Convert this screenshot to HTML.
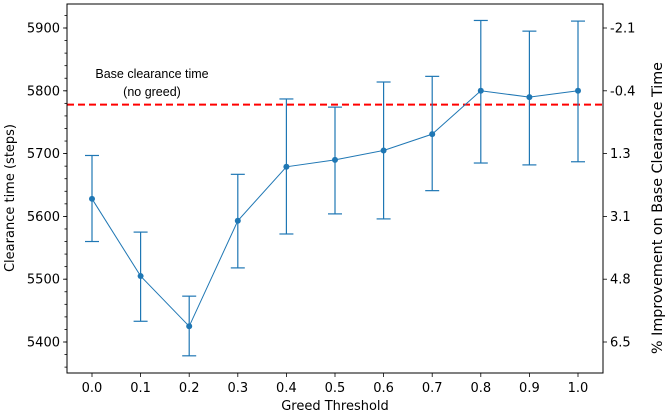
<!DOCTYPE html>
<html><head><meta charset="utf-8"><style>
body{margin:0;background:#fff}
svg text{font-family:"DejaVu Sans","Liberation Sans",sans-serif;font-size:13px;fill:#000}
</style></head><body>
<svg id="c" width="666" height="415" xmlns="http://www.w3.org/2000/svg"></svg>
<script>
const thresholds=[0.0,0.1,0.2,0.3,0.4,0.5,0.6,0.7,0.8,0.9,1.0];
const means=[5628,5505,5425,5593,5679,5690,5705,5731,5800,5790,5800];
const errHigh=[5697,5575,5473,5667,5787,5774,5814,5823,5912,5895,5911];
const errLow=[5560,5433,5378,5518,5572,5604,5596,5641,5685,5682,5687];
const baseTime=5778;
const yTicks=[5400,5500,5600,5700,5800,5900];
const rightTickLabels=["6.5","4.8","3.1","1.3","-0.4","-2.1"];
const xTickLabels=["0.0","0.1","0.2","0.3","0.4","0.5","0.6","0.7","0.8","0.9","1.0"];

const L=67,R=603,T=4,B=373;
const xs=v=>92+(v-0)*(578-92)/1.0;
const ys=v=>342-(v-5400)*0.628;
const svg=document.getElementById('c');
const NS='http://www.w3.org/2000/svg';
function mk(tag,attrs,parent){const e=document.createElementNS(NS,tag);for(const k in attrs)e.setAttribute(k,attrs[k]);(parent||svg).appendChild(e);return e;}

for(let v=5360;v<=5930;v+=20){
  const t=mk('line',{x1:L-2.5,x2:L,y1:ys(v),y2:ys(v),stroke:'#000','stroke-width':0.8});
  
  
}
yTicks.forEach((v,i)=>{
  const y=ys(v);
  const t=mk('line',{x1:L-4,x2:L,y1:y,y2:y,stroke:'#000','stroke-width':0.8});
  
  
  const tx=mk('text',{x:L-7,y:y+4.5,'text-anchor':'end'});tx.textContent=v;
  
  
  const t2=mk('line',{x1:R,x2:R+4,y1:y,y2:y,stroke:'#000','stroke-width':0.8});
  
  
  const tx2=mk('text',{x:R+7,y:y+4.5,'text-anchor':'start'});tx2.textContent=rightTickLabels[i];
  
  
});
thresholds.forEach((v,i)=>{
  const x=xs(v);
  const t=mk('line',{x1:x,x2:x,y1:B,y2:B+4,stroke:'#000','stroke-width':0.8});
  
  
  const tx=mk('text',{x:x,y:B+19,'text-anchor':'middle'});tx.textContent=xTickLabels[i];
  
  
});

const bl=mk('line',{x1:L,x2:R,y1:ys(baseTime),y2:ys(baseTime),stroke:'#ff0000','stroke-width':2,'stroke-dasharray':'7,4'});


const a1=mk('text',{x:152,y:78,'text-anchor':'middle',style:'font-family:"Liberation Sans",sans-serif;font-size:12.5px'});a1.textContent='Base clearance time';


const a2=mk('text',{x:152,y:96,'text-anchor':'middle',style:'font-family:"Liberation Sans",sans-serif;font-size:12.5px'});a2.textContent='(no greed)';



const col='#1f77b4';
thresholds.forEach((v,i)=>{
  const x=xs(v);
  const e=mk('line',{x1:x,x2:x,y1:ys(errHigh[i]),y2:ys(errLow[i]),stroke:col,'stroke-width':1.2});
  
  
  [errHigh[i],errLow[i]].forEach(c=>{
    const cap=mk('line',{x1:x-7,x2:x+7,y1:ys(c),y2:ys(c),stroke:col,'stroke-width':1.2});
    
    
  });
});
const pl=mk('polyline',{points:thresholds.map((v,i)=>xs(v)+','+ys(means[i])).join(' '),fill:'none',stroke:col,'stroke-width':1});


thresholds.forEach((v,i)=>{
  const c=mk('circle',{cx:xs(v),cy:ys(means[i]),r:3,fill:col});
  
  
});

const fr=mk('rect',{x:L,y:T,width:R-L,height:B-T,fill:'none',stroke:'#000','stroke-width':1});



const xl=mk('text',{x:(L+R)/2,y:410,'text-anchor':'middle'});xl.textContent='Greed Threshold';


const yl=mk('text',{x:0,y:0,'text-anchor':'middle',transform:'translate(14,198) rotate(-90)'});yl.textContent='Clearance time (steps)';


const yr=mk('text',{x:0,y:0,'text-anchor':'middle',style:'font-size:14.3px',transform:'translate(662,208) rotate(-90)'});yr.textContent='% Improvement on Base Clearance Time';


</script>
</body></html>
